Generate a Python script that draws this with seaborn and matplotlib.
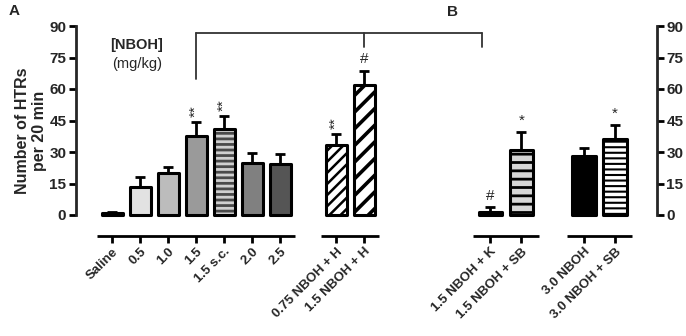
import numpy as np
import pandas as pd
import seaborn as sns
import matplotlib
matplotlib.use("Agg")
import matplotlib.pyplot as plt
from matplotlib.patches import Rectangle

# ---- data ----
# panel A: NBOH dose response + H pretreatment
labels_a = ["Saline", "0.5", "1.0", "1.5", "1.5 s.c.", "2.0", "2.5",
            "0.75 NBOH + H", "1.5 NBOH + H"]
pos_a = [0, 1, 2, 3, 4, 5, 6, 8, 9]
mean_a = [1.0, 13.5, 20.2, 37.7, 41.0, 25.0, 24.2, 33.3, 62.1]
sem_a = [0.4, 4.5, 2.6, 6.6, 6.0, 4.5, 4.8, 5.3, 6.7]
sig_a = ["", "", "", "**", "**", "", "", "**", "#"]

# panel B: antagonists
labels_b = ["1.5 NBOH + K", "1.5 NBOH + SB", "3.0 NBOH", "3.0 NBOH + SB"]
pos_b = [0, 1, 3, 4]
mean_b = [1.6, 31.0, 27.9, 36.2]
sem_b = [2.1, 8.3, 4.0, 6.8]
sig_b = ["#", "*", "", "*"]

yticks = [0, 15, 30, 45, 60, 75, 90]

# bar looks: face, hatch, hatch colour, hatch width
style_a = [("white", "", None, 0),
           ("#e2e2e2", "", None, 0),
           ("#bcbcbc", "", None, 0),
           ("#9a9a9a", "", None, 0),
           ("#4a4a4a", "---", "#d0d0d0", 2.0),
           ("#808080", "", None, 0),
           ("#555555", "", None, 0),
           ("white", "///", "black", 1.8),
           ("white", "//", "black", 2.6)]
style_b = [("white", "", None, 0),
           ("#d6d6d6", "--", "black", 2.0),
           ("black", "", None, 0),
           ("white", "---", "black", 1.5)]

sns.set_style("ticks")
plt.rcParams["font.family"] = ["Liberation Sans", "DejaVu Sans"]
plt.rcParams["font.weight"] = "bold"

W, H = 686, 336
fig = plt.figure(figsize=(W / 100, H / 100), dpi=100)

def px_axes(x0, x1, y0, y1):
    return fig.add_axes([x0 / W, 1 - y1 / H, (x1 - x0) / W, (y1 - y0) / H])

axA = px_axes(76, 400, 26, 236)
axB = px_axes(440, 656.7, 26, 236)
axA.set_xlim(-36 / 28, -36 / 28 + 324 / 28)
axB.set_xlim((440 - 490.2) / 31.2, (656.7 - 490.2) / 31.2)


def draw_panel(ax, pos, mean, sem, labels, sig, style, groups):
    df = pd.DataFrame({"pos": pos, "htr": mean, "group": labels})
    pal = dict(zip(labels, [s[0] for s in style]))
    sns.barplot(data=df, x="pos", y="htr", hue="group", palette=pal,
                native_scale=True, width=0.75, errorbar=None, legend=False,
                saturation=1, linewidth=0, ax=ax)
    bars = [p for p in ax.patches if isinstance(p, Rectangle)]
    for p, (face, hatch, hc, hlw) in zip(bars, style):
        if hatch:
            p.set_hatch(hatch)
            p.set_edgecolor(hc)
            if hasattr(p, "set_hatch_linewidth"):
                p.set_hatch_linewidth(hlw)
        p.set_linewidth(0)
        ax.add_patch(Rectangle((p.get_x(), 0), p.get_width(), p.get_height(),
                               fill=False, edgecolor="black", lw=2.2,
                               joinstyle="round", zorder=3))
    ax.errorbar(pos, mean, yerr=[np.zeros(len(sem)), sem], fmt="none",
                ecolor="black", elinewidth=2, capsize=3.5, capthick=2, zorder=2)
    for x, m, s, t in zip(pos, mean, sem, sig):
        if t == "**":
            ax.text(x, m + s + 2.5, t, rotation=90, ha="center", va="bottom",
                    fontsize=11, fontweight="normal")
        elif t:
            ax.text(x, m + s + 2.0, t, ha="center", va="bottom",
                    fontsize=11, fontweight="normal")
    ax.set_ylim(-10, 90)
    ax.set_xticks(pos)
    ax.set_xticklabels(labels, rotation=45, ha="right", rotation_mode="anchor",
                       fontsize=9.5, fontweight="bold")
    ax.set_yticks(yticks)
    ax.tick_params(axis="both", length=5, width=2, color="black", pad=2)
    ax.tick_params(axis="y", labelsize=11)
    ax.set_xlabel("")
    ax.set_ylabel("")
    ax.patch.set_alpha(0)
    for sp in ax.spines.values():
        sp.set_visible(False)
    # broken x axis: one segment per group
    for g in groups:
        gx = [pos[i] for i in g]
        ax.plot([min(gx) - 0.55, max(gx) + 0.55], [0, 0], color="black", lw=2,
                solid_capstyle="butt", transform=ax.get_xaxis_transform(),
                clip_on=False)


draw_panel(axA, pos_a, mean_a, sem_a, labels_a, sig_a, style_a,
           [range(0, 7), range(7, 9)])
draw_panel(axB, pos_b, mean_b, sem_b, labels_b, sig_b, style_b,
           [range(0, 2), range(2, 4)])

axA.spines["left"].set_visible(True)
axA.spines["left"].set_bounds(0, 90)
axA.spines["left"].set_linewidth(2)
axB.spines["right"].set_visible(True)
axB.spines["right"].set_bounds(0, 90)
axB.spines["right"].set_linewidth(2)
axB.yaxis.tick_right()
axB.tick_params(axis="y", left=False, right=True, labelleft=False,
                labelright=True)

# bracket linking 1.5 NBOH to the H and K pretreatments
fig.canvas.draw()
xr = axA.transData.inverted().transform(
    axB.transData.transform((-0.27, 0)))[0]
brk = dict(color="#333333", lw=1.3, clip_on=False)
axA.plot([3, xr], [86.5, 86.5], **brk)
axA.plot([3, 3], [86.5, 65], **brk)
axA.plot([9, 9], [86.5, 80], **brk)
axA.plot([xr, xr], [86.5, 80], **brk)

axA.text(0.89, 81, "[NBOH]", ha="center", va="center", fontsize=10.5,
         fontweight="bold")
axA.text(0.89, 72, "(mg/kg)", ha="center", va="center", fontsize=10.5,
         fontweight="normal")

fig.text(31 / W, 1 - 131 / H, "Number of HTRs\nper 20 min", rotation=90,
         ha="center", va="center", multialignment="center", fontsize=11.5,
         fontweight="bold", linespacing=1.1)
fig.text(14 / W, 1 - 11 / H, "A", ha="center", va="center", fontsize=11,
         fontweight="bold")
fig.text(453 / W, 1 - 12 / H, "B", ha="center", va="center", fontsize=11,
         fontweight="bold")

fig.savefig("out.png", dpi=100)
